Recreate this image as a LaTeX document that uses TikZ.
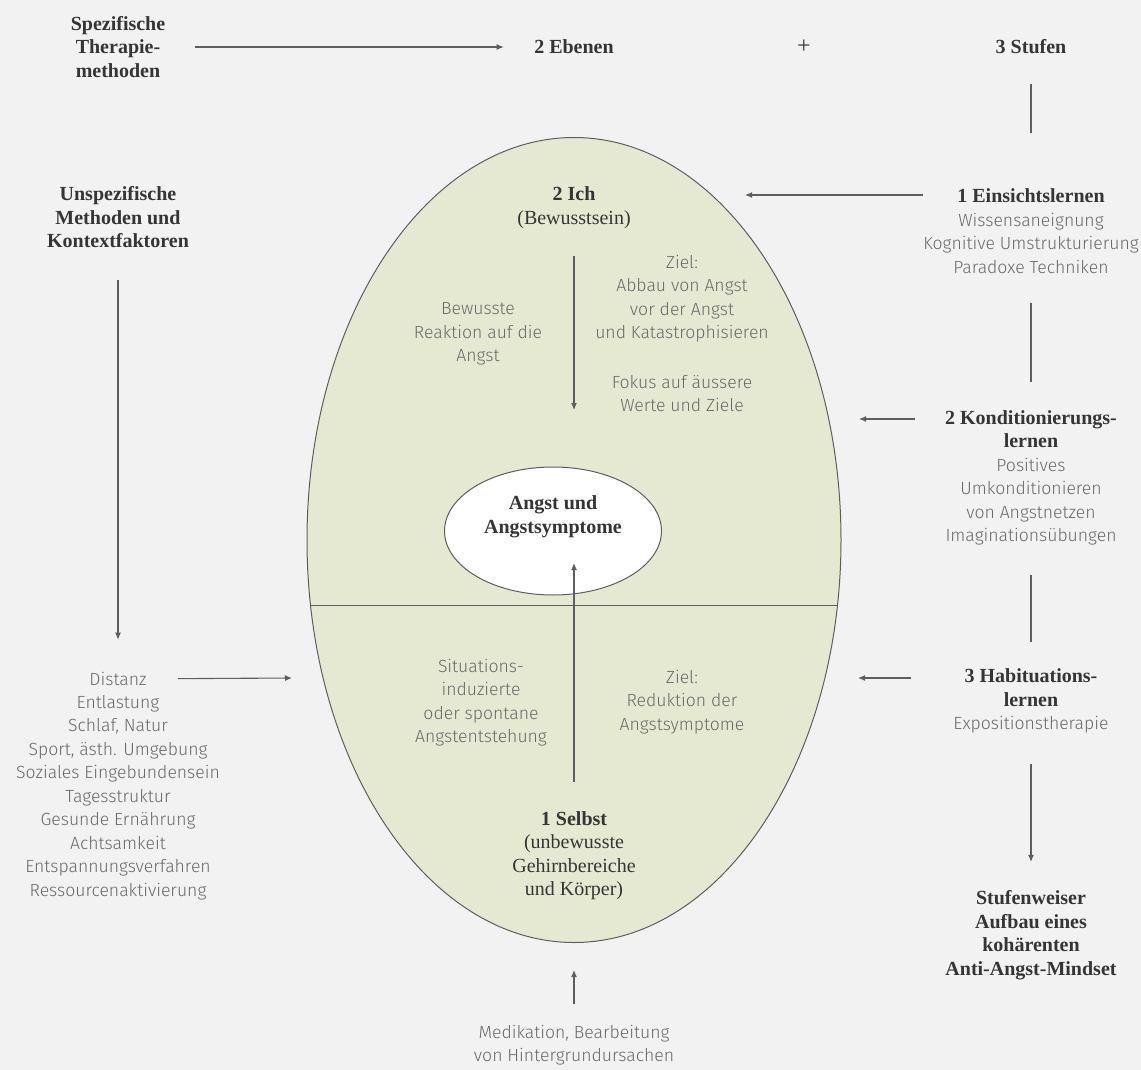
\documentclass[tikz,border=0pt]{standalone}
\usepackage{fontspec}
\setmainfont{Liberation Serif}
\newfontfamily\lightsans{Fira Sans Light}
\usetikzlibrary{arrows.meta, positioning, shapes.geometric}

\definecolor{bgcol}{HTML}{F2F2F2}
\definecolor{mindcol}{HTML}{E6E9D2}
\definecolor{headcol}{HTML}{353535}
\definecolor{txtcol}{HTML}{6A6A6A}
\definecolor{linecol}{HTML}{5E5E5E}
\newcommand{\hd}[1]{{\rmfamily\bfseries\fontsize{10}{11.75}\selectfont\color{headcol}#1}}

\begin{document}
\begin{tikzpicture}[
    x=0.5pt, y=-0.5pt,
    >={Latex[length=3.5pt,width=3pt]},
    line width=0.55pt,
    head/.style={font=\rmfamily\bfseries\fontsize{10}{11.75}\selectfont, text=headcol, align=center, inner sep=0pt},
    serif/.style={font=\rmfamily\fontsize{10}{11.75}\selectfont, text=headcol, align=center, inner sep=0pt},
    txt/.style={font=\lightsans\fontsize{8.8}{11.75}\selectfont, text=txtcol, align=center, inner sep=0pt},
    core/.style={ellipse, draw=linecol, line width=0.5pt, inner sep=0pt}
  ]
  \useasboundingbox (0,0) rectangle (1141,1070);
  \fill[bgcol] (0,0) rectangle (1141,1070);

  % --- Ellipse mit Kern ---
  \node[core, fill=mindcol, minimum width=267pt, minimum height=402.5pt] (mind) at (574,540) {};
  \draw[linecol] (mind.194.9) -- (mind.-14.9);
  \node[core, fill=white, minimum width=108.5pt, minimum height=64pt] (angst) at (553,531) {};
  \node[head] (angsttxt) at (553,517) {Angst und\\Angstsymptome};

  % --- obere Zeile ---
  \node[head] (spez)   at (118,47)  {Spezifische\\Therapie-\\methoden};
  \node[head] (ebenen) at (574,47)  {2 Ebenen};
  \node[serif, font=\rmfamily\fontsize{12}{12}\selectfont] (plus) at (804,47) {+};
  \node[head] (stufen) at (1031,47) {3 Stufen};

  % --- rechte Spalte ---
  \node[txt] (einsicht) at (1031,231) {\hd{1 Einsichtslernen}\\Wissensaneignung\\Kognitive Umstrukturierung\\Paradoxe Techniken};
  \node[txt] (kond)     at (1031,478) {\hd{2 Konditionierungs-}\\\hd{lernen}\\Positives\\Umkonditionieren\\von Angstnetzen\\Imaginationsübungen};
  \node[txt] (habit)    at (1031,701) {\hd{3 Habituations-}\\\hd{lernen}\\Expositionstherapie};
  \node[head] (mindset) at (1031,935) {Stufenweiser\\Aufbau eines\\kohärenten\\Anti-Angst-Mindset};

  % --- linke Spalte ---
  \node[head] (unspez)  at (118,217.5) {Unspezifische\\Methoden und\\Kontextfaktoren};
  \node[txt]  (distanz) at (118,679)   {Distanz};
  \node[txt]  (kontext) at (118,797.5) {Entlastung\\Schlaf, Natur\\Sport, ästh. Umgebung\\Soziales Eingebundensein\\Tagesstruktur\\Gesunde Ernährung\\Achtsamkeit\\Entspannungsverfahren\\Ressourcenaktivierung};

  % --- Innenleben ---
  \node[serif] (ich)     at (574,207.5) {\textbf{2 Ich}\\(Bewusstsein)};
  \node[txt]   (bewusst) at (478,334)   {Bewusste\\Reaktion auf die\\Angst};
  \node[txt]   (zielab)  at (682,298.5) {Ziel:\\Abbau von Angst\\vor der Angst\\und Katastrophisieren};
  \node[txt]   (fokus)   at (682,393.5) {Fokus auf äussere\\Werte und Ziele};
  \node[txt]   (situ)    at (481,702.5) {Situations-\\induzierte\\oder spontane\\Angstentstehung};
  \node[txt]   (zielred) at (682,702)   {Ziel:\\Reduktion der\\Angstsymptome};
  \node[serif] (selbst)  at (574,855.5) {\textbf{1 Selbst}\\(unbewusste\\Gehirnbereiche\\und Körper)};
  \node[txt]   (medi)    at (574,1045) {Medikation, Bearbeitung\\von Hintergrundursachen};

  \coordinate (ichdown)   at (574,410);
  \coordinate (angstup)   at (574,563);
  \coordinate (ichin)     at (745,195);
  \coordinate (kondin)    at (859,419);
  \coordinate (habitin)   at (858,678);
  \coordinate (kontextin) at (292,678);
  \coordinate (selbstin)  at (574,970);

  % --- Verbindungen ---
  \draw[linecol, ->, shorten <=14.5pt, shorten >=15pt] (spez) -- (ebenen);
  \draw[linecol, shorten <=14.5pt, shorten >=27.5pt] (stufen) -- (einsicht);
  \draw[linecol, ->] (ichin -| einsicht.west) -- (ichin);
  \draw[linecol, shorten <=14.5pt, shorten >=14pt] (einsicht) -- (kond);
  \draw[linecol, ->, shorten <=15pt] (kondin -| kond.west) -- (kondin);
  \draw[linecol, shorten <=14.5pt, shorten >=13pt] (kond) -- (habit);
  \draw[linecol, ->, shorten <=21pt] (habitin -| habit.west) -- (habitin);
  \draw[linecol, ->, shorten <=15pt, shorten >=14pt] (habit) -- (mindset);
  \draw[linecol, ->, shorten <=15.5pt, shorten >=16pt] (unspez) -- (distanz);
  \draw[linecol, ->, shorten <=15.5pt] (distanz) -- (kontextin);
  \draw[linecol, ->, shorten <=10pt] (medi) -- (selbstin);
  \draw[linecol, ->, shorten <=13.5pt] (ich) -- (ichdown);
  \draw[linecol, ->, shorten <=14.5pt] (selbst) -- (angstup);
\end{tikzpicture}
\end{document}
